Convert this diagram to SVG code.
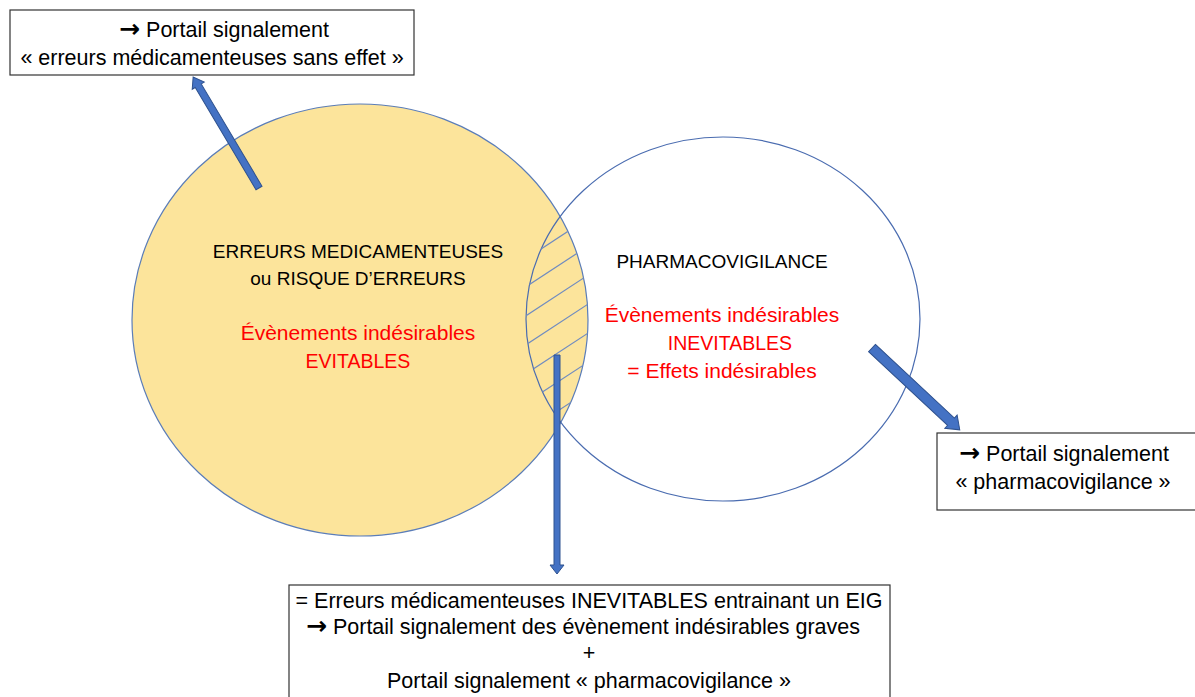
<svg xmlns="http://www.w3.org/2000/svg" width="1195" height="697" viewBox="0 0 1195 697">
  <style>
    text { font-family: "Liberation Sans", Arial, sans-serif; text-anchor: middle; }
    .lbl { font-size: 19px; fill: #000; }
    .box-t { font-size: 21.5px; fill: #000; }
    .red { font-size: 21px; fill: #FF0000; }
    .red-caps { font-size: 19.5px; fill: #FF0000; }
    .arr { font-family: "DejaVu Sans", sans-serif; font-weight: bold; font-size: 25px; }
    .box { fill: #fff; stroke: #333; stroke-width: 1.2; }
    .arrow { fill: #4472C4; stroke: #2F528F; stroke-width: 1; }
    .hatch { stroke: #6F8BC0; stroke-width: 1.2; fill: none; }
  </style>
  <defs>
    <clipPath id="clipL"><ellipse cx="360" cy="320" rx="228" ry="216"/></clipPath>
    <clipPath id="clipR"><ellipse cx="723" cy="319" rx="197" ry="182"/></clipPath>
  </defs>
  <rect width="1195" height="697" fill="#fff"/>

  <!-- medication errors set -->
  <g id="set-errors">
    <ellipse cx="360" cy="320" rx="228" ry="216" fill="#FCE49B" stroke="#5B7DB8" stroke-width="1.2"/>
    <text class="lbl" x="358" y="258">ERREURS MEDICAMENTEUSES</text>
    <text class="lbl" x="358" y="285">ou RISQUE D’ERREURS</text>
    <text class="red" x="358" y="340">Évènements indésirables</text>
    <text class="red-caps" x="358" y="368">EVITABLES</text>
  </g>

  <!-- pharmacovigilance set -->
  <g id="set-pharmacovigilance">
    <ellipse cx="723" cy="319" rx="197" ry="182" fill="none" stroke="#4A6CB0" stroke-width="1.2"/>
    <text class="lbl" x="722" y="268">PHARMACOVIGILANCE</text>
    <text class="red" x="722" y="322">Évènements indésirables</text>
    <text class="red-caps" x="730" y="350">INEVITABLES</text>
    <text class="red" x="722" y="378">= Effets indésirables</text>
  </g>

  <!-- hatched overlap -->
  <g id="overlap" clip-path="url(#clipL)">
    <g clip-path="url(#clipR)">
      <line class="hatch" x1="515" y1="266" x2="605" y2="207"/>
      <line class="hatch" x1="515" y1="294" x2="605" y2="235"/>
      <line class="hatch" x1="515" y1="323" x2="605" y2="264"/>
      <line class="hatch" x1="515" y1="352" x2="605" y2="293"/>
      <line class="hatch" x1="515" y1="381" x2="605" y2="322"/>
      <line class="hatch" x1="515" y1="410" x2="605" y2="351"/>
      <line class="hatch" x1="515" y1="439" x2="605" y2="380"/>
    </g>
  </g>

  <!-- reporting portals -->
  <g id="portal-errors">
    <rect class="box" x="10" y="10" width="404" height="65"/>
    <text class="box-t" x="224" y="37"><tspan class="arr">→</tspan> Portail signalement</text>
    <text class="box-t" x="212" y="65">« erreurs médicamenteuses sans effet »</text>
  </g>

  <g id="portal-pharmacovigilance">
    <rect class="box" x="937" y="433" width="260" height="77"/>
    <text class="box-t" x="1064" y="461"><tspan class="arr">→</tspan> Portail signalement</text>
    <text class="box-t" x="1063" y="489">« pharmacovigilance »</text>
  </g>

  <g id="portal-eig">
    <rect class="box" x="289" y="585" width="601" height="120"/>
    <text class="box-t" x="589" y="608">= Erreurs médicamenteuses INEVITABLES  entrainant un EIG</text>
    <text class="box-t" x="583" y="634"><tspan class="arr">→</tspan>  Portail signalement des évènement indésirables graves</text>
    <text class="box-t" x="589" y="660">+</text>
    <text class="box-t" x="589" y="688">Portail signalement « pharmacovigilance »</text>
  </g>

  <!-- block arrows -->
  <g id="connectors">
    <g transform="translate(259 188) rotate(-120.7)">
      <path class="arrow" d="M0,-3.5 L119,-3.5 L119,-7 L129,0 L119,7 L119,3.5 L0,3.5 Z"/>
    </g>
    <g transform="translate(872 348) rotate(43)">
      <path class="arrow" d="M0,-5 L108,-5 L108,-9 L120,0 L108,9 L108,5 L0,5 Z"/>
    </g>
    <g transform="translate(557 355) rotate(90)">
      <path class="arrow" d="M0,-3 L210,-3 L210,-7 L219,0 L210,7 L210,3 L0,3 Z"/>
    </g>
  </g>
</svg>
